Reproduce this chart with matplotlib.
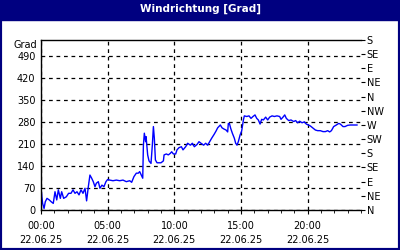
import matplotlib
matplotlib.use('Agg')
import matplotlib.pyplot as plt
from matplotlib.patches import Rectangle

# time in hours since 00:00, wind direction in degrees (unwrapped)
hours = [0.0, 0.12, 0.23, 0.32, 0.45, 0.62, 0.77, 0.92, 1.05, 1.18, 1.3, 1.45, 1.55, 1.7,
         1.9, 2.07, 2.25, 2.4, 2.55, 2.7, 2.85, 3.0, 3.15, 3.3, 3.42, 3.55, 3.67, 3.8, 3.92,
         4.05, 4.15, 4.3, 4.42, 4.57, 4.72, 4.87, 5.0, 5.15, 5.4, 5.65, 5.9, 6.15, 6.4, 6.65,
         6.8, 6.97, 7.15, 7.3, 7.4, 7.63, 7.68, 7.75, 7.85, 7.88, 8.0, 8.1, 8.25, 8.35, 8.43,
         8.5, 8.58, 8.7, 9.0, 9.18, 9.23, 9.4, 9.55, 9.7, 9.8, 9.93, 10.1, 10.2, 10.35, 10.53,
         10.65, 10.85, 11.0, 11.2, 11.35, 11.5, 11.7, 11.85, 12.0, 12.2, 12.35, 12.5, 12.65,
         12.8, 12.98, 13.13, 13.25, 13.45, 13.58, 13.73, 13.88, 14.0, 14.05, 14.13, 14.23,
         14.35, 14.5, 14.6, 14.7, 14.8, 14.93, 15.05, 15.18, 15.25, 15.43, 15.6, 15.75, 15.9,
         16.05, 16.18, 16.3, 16.43, 16.55, 16.68, 16.85, 17.0, 17.15, 17.33, 17.5, 17.7, 17.9,
         18.0, 18.15, 18.28, 18.4, 18.58, 18.75, 18.95, 19.1, 19.25, 19.4, 19.58, 19.75, 19.9,
         20.05, 20.2, 20.4, 20.58, 20.75, 20.95, 21.15, 21.33, 21.5, 21.65, 21.78, 21.95, 22.15,
         22.33, 22.45, 22.65, 22.8, 23.0, 23.2, 23.45, 23.7]
direction = [69, 21, 5, 26, 37, 32, 26, 21, 58, 32, 64, 37, 58, 37,
             42, 53, 53, 64, 53, 58, 48, 64, 53, 69, 29, 74, 111, 101, 90,
             74, 85, 90, 69, 79, 74, 90, 97, 95, 93, 95, 93, 95, 90, 93,
             88, 106, 117, 117, 122, 101, 206, 244, 217, 233, 175, 156, 148, 206, 265,
             228, 159, 150, 150, 156, 175, 178, 175, 180, 185, 178, 178, 191, 198, 201,
             191, 201, 212, 206, 212, 201, 208, 217, 212, 206, 212, 206, 217,
             228, 240, 251, 261, 270, 261, 257, 254, 248, 275, 275, 259,
             244, 228, 212, 206, 217, 238, 251, 286, 299, 297, 299, 291, 297,
             302, 291, 286, 273, 288, 286, 295, 286, 295, 299, 297, 299, 297,
             288, 295, 302, 291, 284, 286, 281, 284, 277, 282, 277, 280, 273,
             270, 267, 260, 254, 252, 252, 249, 249, 252, 248, 252, 265, 270,
             275, 273, 265, 265, 269, 270, 270, 270]

left_ticks = list(range(0, 491, 70))
right_ticks = list(range(0, 541, 45))
compass = ['N', 'NE', 'E', 'SE', 'S', 'SW', 'W', 'NW', 'N', 'NE', 'E', 'SE', 'S']
time_ticks = [0, 5, 10, 15, 20]
time_labels = ['00:00\n22.06.25', '05:00\n22.06.25', '10:00\n22.06.25',
               '15:00\n22.06.25', '20:00\n22.06.25']

navy = '#000080'
fs = 7

fig = plt.figure(figsize=(4, 2.5), dpi=100)
fig.patch.set_facecolor('white')
# outer frame and title bar
fig.patches.append(Rectangle((0, 0), 1, 1, transform=fig.transFigure,
                             fill=False, edgecolor=navy, linewidth=3, zorder=0))
fig.patches.append(Rectangle((0, 230 / 250), 1, 20 / 250, transform=fig.transFigure,
                             facecolor=navy, edgecolor=navy, zorder=0))
fig.text(0.5, 241 / 250, 'Windrichtung [Grad]', color='white', fontsize=7.5,
         fontweight='bold', ha='center', va='center')

ax = fig.add_axes([41 / 400, 40 / 250, 320 / 400, 170 / 250])
ax.plot(hours, direction, color='#0000ff', linewidth=1)
ax.set_xlim(0, 24)
ax.set_ylim(0, 540)

ax.set_yticks(left_ticks)
ax.set_yticklabels([str(t) for t in left_ticks], fontsize=fs)
ax.set_xticks(time_ticks)
ax.set_xticklabels(time_labels, fontsize=fs, linespacing=1.45)
ax.set_xticks(range(0, 25), minor=True)
ax.tick_params(axis='y', length=0, pad=4)
ax.tick_params(axis='x', which='major', length=3, pad=5)
ax.tick_params(axis='x', which='minor', length=2)
ax.grid(True, color='black', linestyle=(0, (3, 3)), linewidth=0.9)
ax.spines['right'].set_visible(False)
for s in ['left', 'bottom', 'top']:
    ax.spines[s].set_linewidth(1)

ax2 = ax.twinx()
ax2.set_ylim(0, 540)
ax2.set_yticks(right_ticks)
ax2.set_yticklabels(compass, fontsize=fs)
ax2.tick_params(axis='y', length=3, pad=1)
for s in ['left', 'right', 'top', 'bottom']:
    ax2.spines[s].set_visible(False)

fig.text(37 / 400, 205 / 250, 'Grad', fontsize=fs, ha='right', va='center')

fig.savefig('out.png', dpi=100)
